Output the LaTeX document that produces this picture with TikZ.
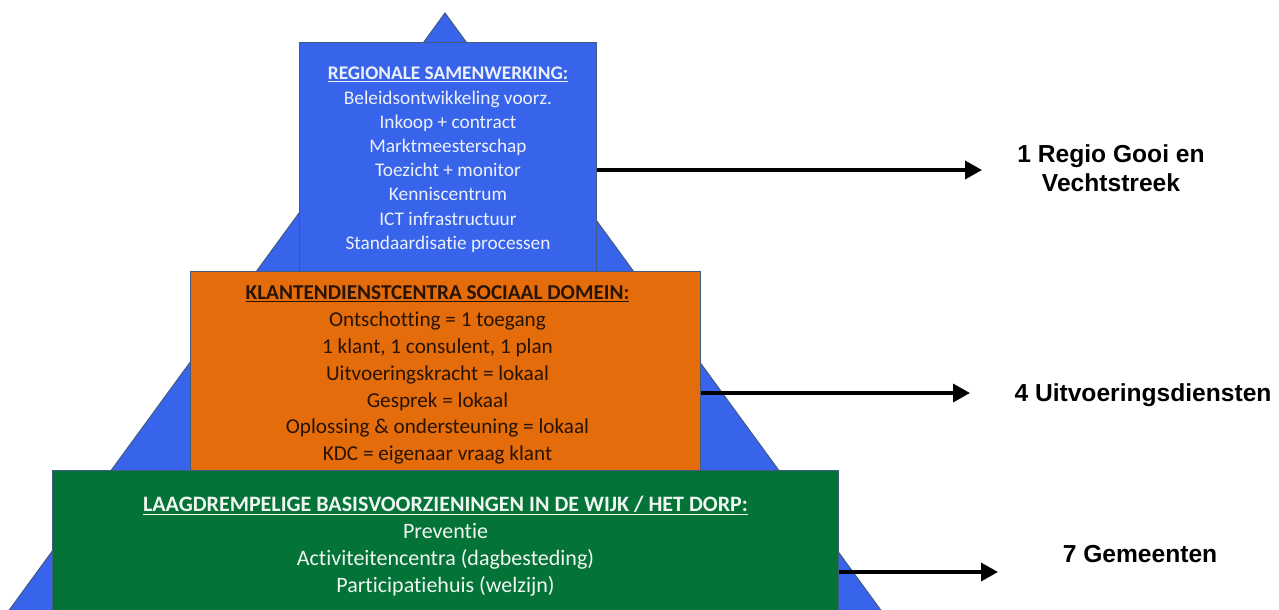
\documentclass[tikz,border=0pt]{standalone}
\usepackage{fontspec}
\setmainfont{Carlito}[Ligatures = {TeX, NoCommon}]
\newfontfamily\lblfont{Liberation Sans}
\usepackage{xcolor}
\usepackage{tikz}
\usetikzlibrary{calc}
\usetikzlibrary{arrows.meta}
\definecolor{rblue}{RGB}{55,100,235}
\definecolor{korange}{RGB}{228,108,10}
\definecolor{wgreen}{RGB}{3,115,55}
\definecolor{edgec}{RGB}{65,90,130}
\definecolor{btext}{RGB}{236,240,250}
\definecolor{ktext}{RGB}{40,20,5}
\definecolor{wtext}{RGB}{240,246,240}

\begin{document}
\begin{tikzpicture}[
    x = 1pt, y = -1pt, >={Triangle[length = 17pt, width = 18pt]},
    lvl/.style ={draw = edgec, line width = 1pt, inner sep = 0pt, anchor = north west},
    txt/.style ={align = center, inner sep = 0pt, anchor = north},
    lbl/.style ={font = \lblfont\bfseries\fontsize{24.6}{29.5}\selectfont, align = center, inner sep = 0pt},
    pijl/.style ={->, line width = 3.5pt}
    ]
\useasboundingbox (0, 0) rectangle (1279, 610);

% the pyramid behind the three layers
\fill [rblue, draw = edgec, line width = 1pt] (445, 13) -- (888, 620) -- (2, 620) -- cycle;

    \node (regio) at (299, 42)  [lvl, fill = rblue,   minimum width = 297, minimum height = 229]{};
    \node (kdc)   at (190, 271) [lvl, fill = korange, minimum width = 510, minimum height = 201]{};
    \node (wijk)  at (52, 470)  [lvl, fill = wgreen,  minimum width = 786, minimum height = 150]{};

    \node (regiotxt) at ([yshift = -25pt]regio.north) [txt, text = btext, font = \fontsize{19.3}{24.2}\selectfont]
        {\underline{\textbf{REGIONALE SAMENWERKING:}}\\
         Beleidsontwikkeling voorz.\\ Inkoop + contract\\ Marktmeesterschap\\
         Toezicht + monitor\\ Kenniscentrum\\ ICT infrastructuur\\ Standaardisatie processen};
    \node (kdctxt) at ([xshift = -8pt, yshift = -14.7pt]kdc.north) [txt, text = ktext, font = \fontsize{21.2}{26.8}\selectfont]
        {\underline{\textbf{KLANTENDIENSTCENTRA SOCIAAL DOMEIN:}}\\
         Ontschotting = 1 toegang\\ 1 klant, 1 consulent, 1 plan\\ Uitvoeringskracht = lokaal\\
         Gesprek = lokaal\\ Oplossing \& ondersteuning = lokaal\\ KDC = eigenaar vraag klant};
    \node (wijktxt) at ([yshift = -26pt]wijk.north) [txt, text = wtext, font = \fontsize{22}{27}\selectfont]
        {\underline{\textbf{LAAGDREMPELIGE BASISVOORZIENINGEN IN DE WIJK / HET DORP:}}\\
         Preventie\\ Activiteitencentra (dagbesteding)\\ Participatiehuis (welzijn)};

% labels on the right
    \node (regiolbl) at (1111, 144)   [lbl, anchor = north]{1 Regio Gooi en\\Vechtstreek};
    \node (kdclbl)   at (1143, 401.8) [lbl, anchor = base] {4 Uitvoeringsdiensten};
    \node (wijklbl)  at (1140, 562.8) [lbl, anchor = base] {7 Gemeenten};

    \coordinate (regiotip) at (982, 170);
    \coordinate (kdctip)   at (970, 393);
    \coordinate (wijktip)  at (998, 572);
    \draw [pijl] (regio.east |- regiotip) -- (regiotip);
    \draw [pijl] (kdc.east |- kdctip)     -- (kdctip);
    \draw [pijl] (wijk.east |- wijktip)   -- (wijktip);
\end{tikzpicture}
\end{document}
